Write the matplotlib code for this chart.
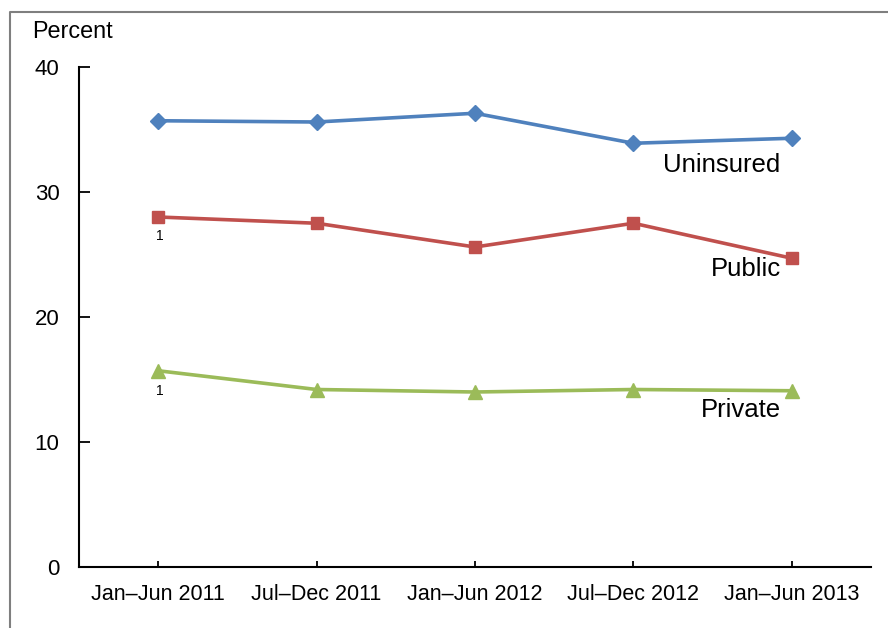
import numpy as np
import matplotlib.pyplot as plt
from matplotlib.lines import Line2D

plt.rcParams['font.family'] = ['Liberation Sans', 'DejaVu Sans']

periods = ["Jan\u2013Jun 2011", "Jul\u2013Dec 2011", "Jan\u2013Jun 2012",
           "Jul\u2013Dec 2012", "Jan\u2013Jun 2013"]
uninsured = [35.7, 35.6, 36.3, 33.9, 34.3]
public = [28.0, 27.5, 25.6, 27.5, 24.7]
private = [15.7, 14.2, 14.0, 14.2, 14.1]

W, H = 888, 628
fig = plt.figure(figsize=(W / 100, H / 100), dpi=100)
ax = fig.add_axes([79 / W, 1 - 567 / H, (871 - 79) / W, (567 - 67) / H])

x = np.arange(len(periods))
ax.plot(x, uninsured, color="#4F81BD", lw=2.6, marker="D", ms=8.5, clip_on=False)
ax.plot(x, public, color="#C0504D", lw=2.6, marker="s", ms=8.5, clip_on=False)
ax.plot(x, private, color="#9BBB59", lw=2.6, marker="^", ms=10, clip_on=False)

# series names at the right end
ax.text(4 - 0.07, uninsured[-1] - 2.15, "Uninsured", ha="right", va="center", fontsize=18.5)
ax.text(4 - 0.07, public[-1] - 0.85, "Public", ha="right", va="center", fontsize=18.5)
ax.text(4 - 0.07, private[-1] - 1.55, "Private", ha="right", va="center", fontsize=18.5)

# footnote markers on the first period
ax.text(0.01, public[0] - 1.5, "1", ha="center", va="center", fontsize=10)
ax.text(0.01, private[0] - 1.6, "1", ha="center", va="center", fontsize=10)

ax.set_xlim(-0.5, 4.5)
ax.set_ylim(0, 40)
ax.set_yticks([0, 10, 20, 30, 40])
ax.set_xticks(x)
ax.set_xticklabels(periods)
ax.tick_params(axis="y", direction="in", length=8, width=1.3, pad=14, labelsize=16)
ax.tick_params(axis="x", direction="in", length=4, width=1.3, pad=12, labelsize=15.5)
for s in ["top", "right"]:
    ax.spines[s].set_visible(False)
for s in ["left", "bottom"]:
    ax.spines[s].set_linewidth(1.5)

fig.text(32 / W, 1 - 32 / H, "Percent", ha="left", va="center", fontsize=16.8)

# outer frame (top and left edges)
fx, fy = 10 / W, 1 - 12 / H
fig.add_artist(Line2D([fx, fx, 1.0], [0.0, fy, fy], transform=fig.transFigure,
                      color="#7f7f7f", lw=1.5))

fig.savefig("out.png", dpi=100)
